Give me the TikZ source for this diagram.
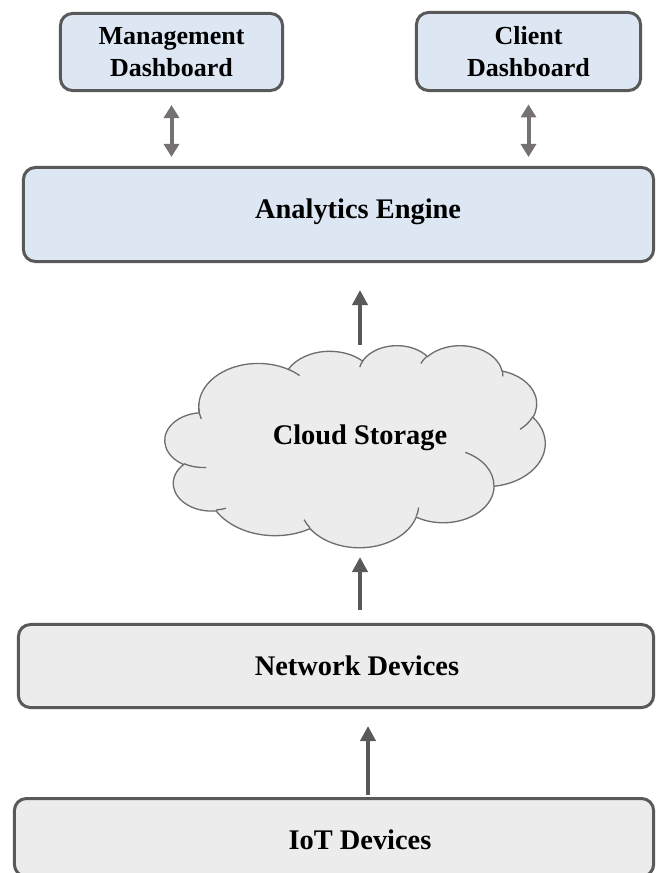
\documentclass[tikz,border=0pt]{standalone}
\usepackage{fontspec}
\setmainfont{Liberation Serif}
\usetikzlibrary{arrows.meta}

\definecolor{edgegray}{RGB}{89,89,89}
\definecolor{paleblue}{RGB}{221,231,243}
\definecolor{palegray}{RGB}{236,236,236}
\definecolor{linkgray}{RGB}{118,113,113}
\definecolor{cloudline}{RGB}{110,110,110}

\tikzset{
	layerbox/.style={draw=edgegray, line width=0.075cm, rounded corners=0.3cm, inner sep=0pt},
	duplex/.style={{Triangle[width=0.375cm,length=0.325cm]}-{Triangle[width=0.375cm,length=0.325cm]}, draw=linkgray, line width=0.1cm},
	upflow/.style={-{Triangle[width=0.375cm,length=0.375cm]}, draw=edgegray, line width=0.11cm},
}
\newcommand{\smallbold}{\fontsize{18.5}{23}\selectfont\bfseries}
\newcommand{\bigbold}{\fontsize{20.2}{24}\selectfont\bfseries}

\begin{document}
\begin{tikzpicture}[x=0.025cm, y=-0.025cm]
	\useasboundingbox (0,0) rectangle (656,873);
	% cloud outline: lobes, then the inner creases
	\begin{scope}[shift={(165,345)}, x=0.2199cm, y=-0.1169cm, draw=cloudline, line width=0.033cm]
		\filldraw[fill=palegray] (3.9,14.37)
			\foreach \rx/\ry/\a/\d in {6.753/9.190/172.25/128.15, 5.333/7.267/-152.04/106.58, 4.365/5.945/-153.49/116.16, 4.857/6.595/-139.72/129.50, 5.333/7.273/-74.77/97.98, 6.775/9.220/-37.53/119.40, 5.785/7.867/0.46/121.52, 6.752/9.215/16.85/129.37, 7.720/10.543/58.97/91.22, 4.360/5.918/83.30/139.82, 4.345/5.945/120.35/143.76}
			{arc[x radius=\rx, y radius=\ry, start angle=\a, delta angle=\d]} -- cycle;
		\foreach \px/\py/\rx/\ry/\a/\d in {4.693/26.177/4.345/5.945/85.54/34.81, 6.928/34.899/4.360/5.918/68.24/15.06, 16.478/39.090/6.752/9.215/146.22/12.25, 28.827/34.751/6.752/9.215/4.74/12.11, 34.129/22.954/5.785/7.867/-64.02/64.48, 41.798/15.354/5.333/7.273/23.21/26.43, 38.324/5.426/4.857/6.595/-10.22/11.04, 29.078/3.952/4.857/6.595/-156.29/16.57, 22.141/4.720/4.365/5.945/-167.72/14.23, 14.000/5.192/6.753/9.190/-59.64/13.90, 4.127/15.789/6.753/9.190/161.59/14.88}
			\draw (\px,\py) arc[x radius=\rx, y radius=\ry, start angle=\a, delta angle=\d];
	\end{scope}
	\node[inner sep=0pt, outer sep=0pt, minimum width=9.5cm, minimum height=5.05cm, label={[font=\bigbold, yshift=0.2cm]center:Cloud Storage}] (storage) at (360,446) {};

	\node[layerbox, fill=paleblue, minimum width=5.55cm, minimum height=1.925cm, align=center, font=\smallbold] (mgmt) at (171.5,52) {Management\\Dashboard};
	\node[layerbox, fill=paleblue, minimum width=5.6cm, minimum height=1.95cm, align=center, font=\smallbold] (client) at (528.5,51.5) {Client\\Dashboard};
	\node[layerbox, fill=paleblue, minimum width=15.75cm, minimum height=2.35cm, label={[font=\bigbold, xshift=0.49cm, yshift=0.06cm]center:Analytics Engine}] (engine) at (338.5,214.5) {};
	\node[layerbox, fill=palegray, minimum width=15.875cm, minimum height=2.075cm, label={[font=\bigbold, xshift=0.525cm]center:Network Devices}] (network) at (336,666) {};
	\node[layerbox, fill=palegray, minimum width=15.975cm, minimum height=1.95cm, label={[font=\bigbold, xshift=0.65cm, yshift=-0.06cm]center:IoT Devices}] (iot) at (334,837.5) {};

	\draw[duplex, shorten <=0.325cm, shorten >=0.225cm] (mgmt.south) -- (mgmt.south |- engine.north);
	\draw[duplex, shorten <=0.31cm, shorten >=0.225cm] (client.south) -- (client.south |- engine.north);
	\draw[upflow, shorten >=0.675cm] (storage.north) -- (storage.north |- engine.south);
	\draw[upflow, shorten <=0.325cm, shorten >=0.25cm] (network.north -| storage) -- (storage.south);
	\draw[upflow, shorten <=0.05cm, shorten >=0.425cm] ([xshift=0.2cm]iot.north -| storage) -- ([xshift=0.2cm]network.south -| storage);
\end{tikzpicture}
\end{document}
